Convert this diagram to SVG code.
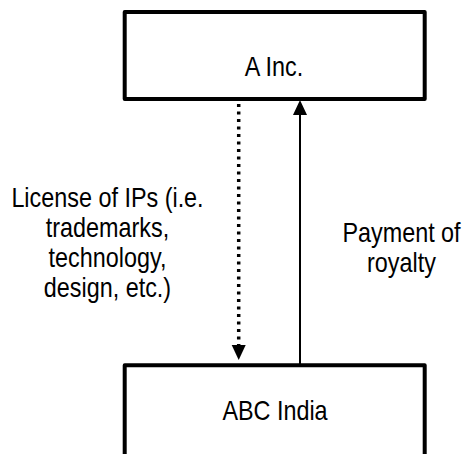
<svg xmlns="http://www.w3.org/2000/svg" width="468" height="454" viewBox="0 0 468 454">
  <style>
    .box { fill: #ffffff; stroke: #000000; stroke-width: 4; stroke-linejoin: round; }
    .t { font-family: "Liberation Sans", Arial, sans-serif; font-size: 28px; fill: #000000; text-anchor: middle; }
    .solid { stroke: #000000; stroke-width: 2; fill: none; }
    .dotted { stroke: #000000; stroke-width: 3.5; stroke-dasharray: 3 4.5; fill: none; }
    .head { fill: #000000; stroke: none; }
  </style>
  <rect x="0" y="0" width="468" height="454" fill="#ffffff"/>
  <g id="node-a-inc">
    <rect class="box" x="124.7" y="12" width="300" height="87"/>
    <g transform="translate(274,76) scale(0.835,1)"><text class="t" x="0" y="0">A Inc.</text></g>
  </g>
  <g id="node-abc-india">
    <rect class="box" x="124.7" y="365.3" width="300" height="100"/>
    <g transform="translate(275,419.5) scale(0.835,1)"><text class="t" x="0" y="0">ABC India</text></g>
  </g>
  <g id="connectors">
    <line class="dotted" x1="238.7" y1="104" x2="238.7" y2="345"/>
    <polygon class="head" points="231.7,345 245.7,345 238.7,360"/>
    <line class="solid" x1="300" y1="114" x2="300" y2="365"/>
    <polygon class="head" points="293,115 307,115 300,100"/>
  </g>
  <g id="label-license" transform="translate(107.5,0) scale(0.835,1)">
    <text class="t" x="0" y="206.7">License of IPs (i.e.</text>
    <text class="t" x="0" y="236.7">trademarks,</text>
    <text class="t" x="0" y="266.7">technology,</text>
    <text class="t" x="0" y="296.7">design, etc.)</text>
  </g>
  <g id="label-royalty" transform="translate(401.5,0) scale(0.835,1)">
    <text class="t" x="0" y="242">Payment of</text>
    <text class="t" x="0" y="272">royalty</text>
  </g>
</svg>
